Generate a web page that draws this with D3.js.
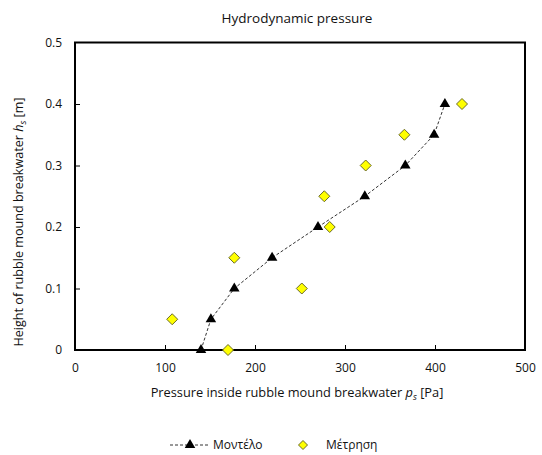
<!DOCTYPE html>
<html>
<head>
<meta charset="utf-8">
<script src="https://cdn.jsdelivr.net/npm/d3@7"></script>
<style>
  html, body { margin: 0; padding: 0; background: #fff; }
  svg { display: block; font-family: "Open Sans", "Noto Sans", sans-serif; }
</style>
</head>
<body>
<svg id="chart" width="542" height="455"></svg>
<script>
// Model results (pressure [Pa], height [m])
const modelPressure = [140, 151, 177, 219, 270, 322, 367, 399, 411];
const modelHeight   = [0, 0.05, 0.1, 0.15, 0.2, 0.25, 0.3, 0.35, 0.4];

// Measurements (pressure [Pa], height [m])
const measPressure = [170, 108, 252, 177, 283, 277, 323, 366, 430];
const measHeight   = [0, 0.05, 0.1, 0.15, 0.2, 0.25, 0.3, 0.35, 0.4];

const xTicks = [0, 100, 200, 300, 400, 500];
const yTicks = [0, 0.1, 0.2, 0.3, 0.4, 0.5];

const svg = d3.select("#chart");
const margin = { left: 75, right: 17, top: 42.5, bottom: 105 };
const W = 542, H = 455;

const x = d3.scaleLinear().domain([0, 500]).range([margin.left, W - margin.right]);
const y = d3.scaleLinear().domain([0, 0.5]).range([H - margin.bottom, margin.top]);

// Title
svg.append("text")
  .attr("x", 297).attr("y", 23)
  .attr("text-anchor", "middle")
  .attr("font-size", 13.5)
  .attr("fill", "#111")
  .text("Hydrodynamic pressure");

// Axes with inward ticks
const xAxis = svg.append("g")
  .attr("transform", `translate(0,${y(0)})`)
  .call(d3.axisBottom(x).tickValues(xTicks).tickSize(-5).tickPadding(13).tickFormat(d3.format("d")));
const yAxis = svg.append("g")
  .attr("transform", `translate(${x(0)},0)`)
  .call(d3.axisLeft(y).tickValues(yTicks).tickSize(-5).tickPadding(13)
    .tickFormat(d => d === 0 ? "0" : d3.format(".1f")(d)));

[xAxis, yAxis].forEach(g => {
  g.select(".domain").remove();
  g.selectAll(".tick line").attr("stroke", "#000").attr("stroke-width", 1);
  g.selectAll(".tick text").attr("font-size", 12).attr("fill", "#111")
    .attr("font-family", "'Open Sans', 'Noto Sans', sans-serif");
});
// Hide end ticks that coincide with the frame
xAxis.selectAll(".tick").filter(d => d === 0 || d === 500).select("line").remove();
yAxis.selectAll(".tick").filter(d => d === 0 || d === 0.5).select("line").remove();

// Plot frame
svg.append("rect")
  .attr("x", x(0)).attr("y", y(0.5))
  .attr("width", x(500) - x(0)).attr("height", y(0) - y(0.5))
  .attr("fill", "none").attr("stroke", "#000").attr("stroke-width", 2);

// Axis titles
const xt = svg.append("text")
  .attr("x", 297).attr("y", 397)
  .attr("text-anchor", "middle")
  .attr("font-size", 12.8).attr("fill", "#111");
xt.append("tspan").text("Pressure inside rubble mound breakwater ");
xt.append("tspan").attr("font-style", "italic").text("p");
xt.append("tspan").attr("font-size", 9).attr("font-style", "italic").attr("dy", 3).text("s");
xt.append("tspan").attr("dy", -3).text(" [Pa]");

const yt = svg.append("text")
  .attr("transform", `translate(23,222) rotate(-90)`)
  .attr("text-anchor", "middle")
  .attr("font-size", 12.6).attr("fill", "#111");
yt.append("tspan").text("Height of rubble mound breakwater ");
yt.append("tspan").attr("font-style", "italic").text("h");
yt.append("tspan").attr("font-size", 9).attr("font-style", "italic").attr("dy", 3).text("s");
yt.append("tspan").attr("dy", -3).text(" [m]");

// Model line
const modelData = modelPressure.map((p, i) => ({ p, h: modelHeight[i] }));
const measData = measPressure.map((p, i) => ({ p, h: measHeight[i] }));

svg.append("path")
  .datum(modelData)
  .attr("fill", "none")
  .attr("stroke", "#333")
  .attr("stroke-width", 1)
  .attr("stroke-dasharray", "3,2")
  .attr("d", d3.line().x(d => x(d.p)).y(d => y(d.h)));

const triangle = d3.symbol().type(d3.symbolTriangle).size(48);
const diamond = "M0,-5.5L5.5,0L0,5.5L-5.5,0Z";

// Measurement markers
svg.append("g").selectAll("path")
  .data(measData).join("path")
  .attr("transform", d => `translate(${x(d.p)},${y(d.h)})`)
  .attr("d", diamond)
  .attr("fill", "#ffff00")
  .attr("stroke", "#6b6b2a")
  .attr("stroke-width", 1);

// Model markers
svg.append("g").selectAll("path")
  .data(modelData).join("path")
  .attr("transform", d => `translate(${x(d.p)},${y(d.h)})`)
  .attr("d", triangle)
  .attr("fill", "#000");

// Legend
const ly = 445;
const leg = svg.append("g");
leg.append("line")
  .attr("x1", 170).attr("x2", 208).attr("y1", ly).attr("y2", ly)
  .attr("stroke", "#333").attr("stroke-width", 1).attr("stroke-dasharray", "3,2");
leg.append("path").attr("transform", `translate(190,${ly})`).attr("d", triangle).attr("fill", "#000");
leg.append("text").attr("x", 213).attr("y", ly + 4).attr("font-size", 12).attr("fill", "#111").text("Μοντέλο");
leg.append("path").attr("transform", `translate(303,${ly})`).attr("d", "M0,-4.5L4.5,0L0,4.5L-4.5,0Z")
  .attr("fill", "#ffff00").attr("stroke", "#6b6b2a").attr("stroke-width", 1);
leg.append("text").attr("x", 326).attr("y", ly + 4).attr("font-size", 12).attr("fill", "#111").text("Μέτρηση");
</script>
</body>
</html>
